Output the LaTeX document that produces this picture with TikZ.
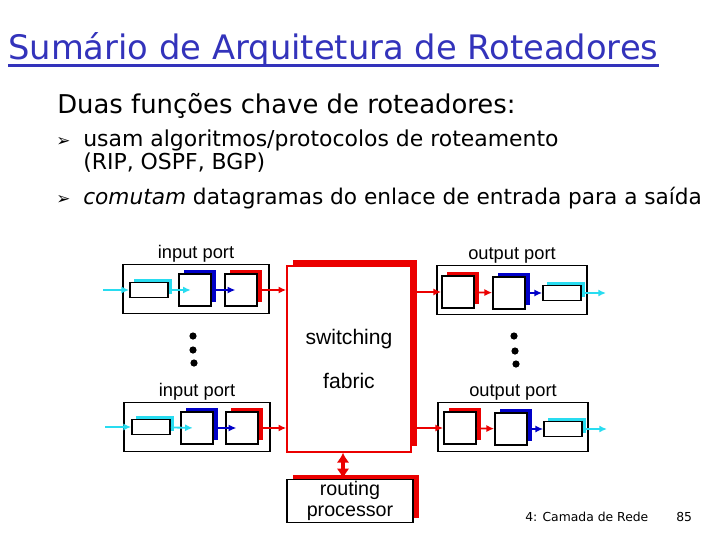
\documentclass[tikz,border=0pt]{standalone}
\usepackage{fontspec}
\setmainfont{DejaVu Sans}
\newfontfamily\diagfont{Liberation Sans}
\usetikzlibrary{arrows.meta, positioning, shadows}
\definecolor{titleblue}{RGB}{51,51,187}
\definecolor{portcyan}{RGB}{40,220,240}
\definecolor{portblue}{RGB}{0,0,200}
\definecolor{portred}{RGB}{235,0,0}

\begin{document}
\begin{tikzpicture}[x=0.025cm, y=-0.025cm, >={Latex[length=5.5pt,width=5pt]},
        port/.style={rectangle, draw, line width=1.2pt, inner sep=0pt, minimum width=3.65cm, minimum height=1.22cm},
        termin/.style={rectangle, draw, line width=1.2pt, fill=white, inner sep=0pt, minimum width=0.95cm, minimum height=0.38cm, general shadow={fill=portcyan, shadow xshift=2.5pt, shadow yshift=2.5pt}},
        linkbox/.style={rectangle, draw, line width=1.2pt, fill=white, inner sep=0pt, minimum size=0.8cm, general shadow={fill=portblue, shadow xshift=3.5pt, shadow yshift=3pt}},
        queuebox/.style={rectangle, draw, line width=1.2pt, fill=white, inner sep=0pt, minimum size=0.8cm, general shadow={fill=portred, shadow xshift=3.5pt, shadow yshift=3pt}},
        portlabel/.style={inner sep=0pt, font=\diagfont\fontsize{13}{15}\selectfont},
        cyanline/.style={draw=portcyan, line width=1.3pt},
        blueline/.style={draw=portblue, line width=1.3pt},
        redline/.style={draw=portred, line width=1.3pt}]

    \useasboundingbox (0,0) rectangle (720,540);

    % Slide text
    \node (title) [anchor=base west, inner sep=0pt, text=titleblue, font=\fontsize{24}{28}\selectfont] at (8,59) {Sumário de Arquitetura de Roteadores};
    \draw [titleblue, line width=2pt] ([yshift=-4.5pt]title.base west) -- ([yshift=-4.5pt]title.base east);
    \node (intro) [anchor=base west, inner sep=0pt, font=\fontsize{18.4}{22}\selectfont] at (57,113) {Duas funções chave de roteadores:};
    \node (b1) [anchor=base west, inner sep=0pt, font=\fontsize{12}{14}\selectfont] at (56,146) {➢};
    \node (t1) [anchor=base west, inner sep=0pt, font=\fontsize{15.6}{18}\selectfont] at (83,146) {usam algoritmos/protocolos de roteamento};
    \node (t1b) [anchor=base west, inner sep=0pt, font=\fontsize{15.6}{18}\selectfont] at (83,169) {(RIP, OSPF, BGP)};
    \node (b2) [anchor=base west, inner sep=0pt, font=\fontsize{12}{14}\selectfont] at (56,204) {➢};
    \node (t2) [anchor=base west, inner sep=0pt, font=\fontsize{15.4}{18}\selectfont] at (83,204) {\textit{comutam} datagramas do enlace de entrada para a saída};

    % Switching fabric and routing processor
    \node (fab) [rectangle, draw=portred, line width=1pt, fill=white, inner sep=0pt, minimum width=3.1cm, minimum height=4.65cm, align=center,
        general shadow={fill=portred, shadow xshift=4.3pt, shadow yshift=4.3pt}, font=\diagfont\fontsize{15}{17}\selectfont] at (349,359) {switching\\[14pt]fabric};
    \node (rp) [rectangle, draw, line width=1.2pt, fill=white, inner sep=0pt, minimum width=3.15cm, minimum height=1.08cm, align=center,
        general shadow={fill=portred, shadow xshift=4.5pt, shadow yshift=3pt}, font=\diagfont\fontsize{14}{15}\selectfont] at (350,501) {routing\\processor};

    % Input ports
    \node (ip1) [port] at (196,289) {};
    \node (lt1) [termin] at (149,290) {};
    \node (lk1) [linkbox] at (195,290) {};
    \node (qu1) [queuebox] at (241,290) {};
    \node (ipl1) [portlabel, above=1pt of ip1] {input port};

    \node (ip2) [port] at (197,427) {};
    \node (lt2) [termin] at (151,427) {};
    \node (lk2) [linkbox] at (197,428) {};
    \node (qu2) [queuebox] at (242,428) {};
    \node (ipl2) [portlabel, above=1pt of ip2] {input port};

    % Output ports
    \node (op1) [port, minimum width=3.75cm] at (512,290) {};
    \node (oq1) [queuebox] at (458,292) {};
    \node (ol1) [linkbox] at (509,293) {};
    \node (ot1) [termin] at (562,293) {};
    \node (opl1) [portlabel, above=1pt of op1] {output port};

    \node (op2) [port, minimum width=3.75cm] at (513,427) {};
    \node (oq2) [queuebox] at (460,428) {};
    \node (ol2) [linkbox] at (511,429) {};
    \node (ot2) [termin] at (563,429) {};
    \node (opl2) [portlabel, above=1pt of op2] {output port};

    \coordinate (in1) at (103,290);
    \coordinate (in2) at (105,427);
    \coordinate (out1) at (606,293);
    \coordinate (out2) at (607,429);

    % Input side flow
    \draw [->, cyanline] (in1) -- (lt1);
    \draw [->, cyanline, shorten >=3pt] (lt1) -- (lk1.center);
    \draw [->, blueline, shorten >=4pt] (lk1) -- (qu1.center);
    \draw [->, redline] (qu1) -- (qu1 -| fab.west);

    \draw [->, cyanline] (in2) -- (lt2);
    \draw [->, cyanline, shorten >=3pt] (lt2) -- (lk2.center);
    \draw [->, blueline, shorten >=4pt] (lk2) -- (qu2.center);
    \draw [->, redline] (qu2) -- (qu2 -| fab.west);

    % Output side flow
    \draw [->, redline] (fab.east |- oq1) -- (oq1);
    \draw [->, redline] (oq1) -- (ol1);
    \draw [->, blueline] (ol1) -- (ot1);
    \draw [->, cyanline] (ot1) -- (out1);

    \draw [->, redline] (fab.east |- oq2) -- (oq2);
    \draw [->, redline] (oq2) -- (ol2);
    \draw [->, blueline] (ol2) -- (ot2);
    \draw [->, cyanline] (ot2) -- (out2);

    % Fabric to routing processor
    \coordinate (fp) at ([xshift=-0.15cm]fab.south);
    \draw [{Latex[length=7pt,width=9pt]}-{Latex[length=7pt,width=9pt]}, draw=portred, fill=portred, line width=2.2pt] (fp) -- (fp |- rp.north);

    % Dots
    \fill (193,336) circle (0.09cm);
    \fill (193,350) circle (0.09cm);
    \fill (194,363) circle (0.09cm);
    \fill (514,336) circle (0.09cm);
    \fill (515,351) circle (0.09cm);
    \fill (516,364) circle (0.09cm);

    % Footer
    \node (foot) [anchor=base west, inner sep=0pt, font=\fontsize{8.8}{11}\selectfont] at (525,521) {4: Camada de Rede};
    \node (page) [anchor=base west, inner sep=0pt, font=\fontsize{8.8}{11}\selectfont] at (676,521) {85};
\end{tikzpicture}
\end{document}
